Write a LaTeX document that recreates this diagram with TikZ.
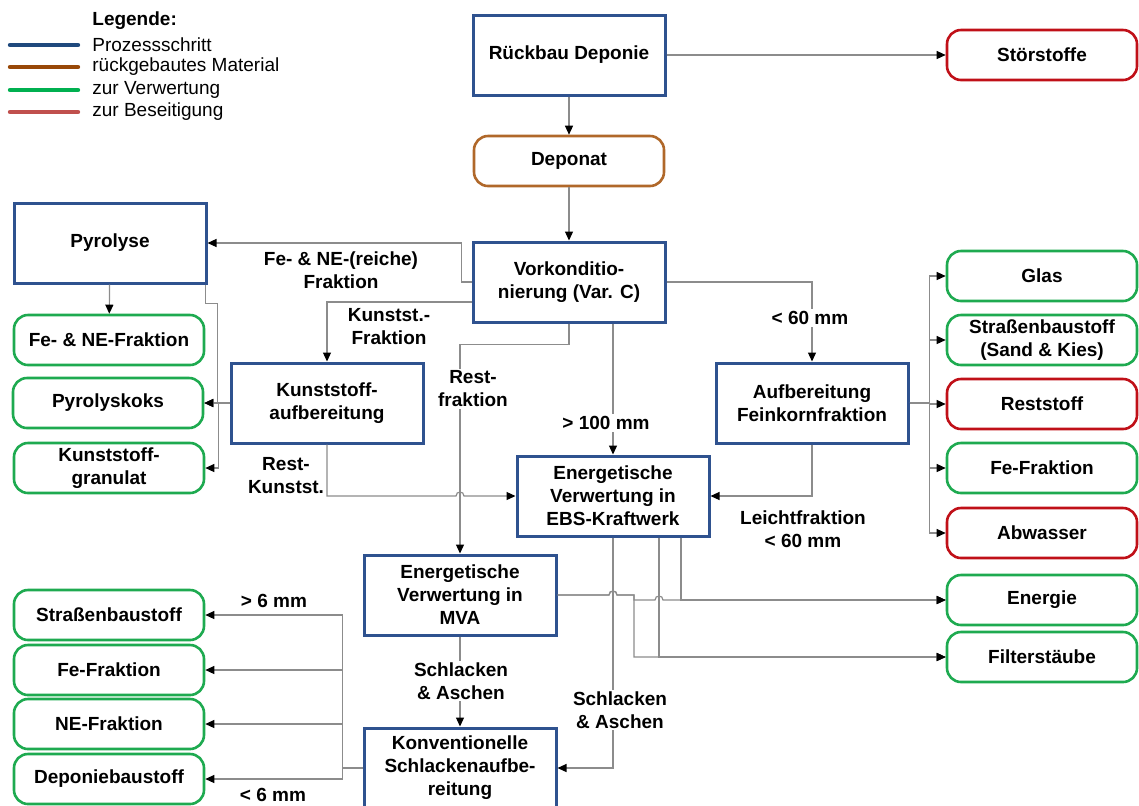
\documentclass[tikz,border=0pt]{standalone}
\usepackage{fontspec}
\setmainfont{Liberation Sans}
\usetikzlibrary{positioning, arrows.meta, calc}

\definecolor{procblue}{RGB}{47,82,143}
\definecolor{matbrown}{RGB}{176,104,42}
\definecolor{verwgreen}{RGB}{30,170,80}
\definecolor{beseitred}{RGB}{192,16,24}
\definecolor{legblue}{RGB}{31,73,125}
\definecolor{legbrown}{RGB}{152,72,7}
\definecolor{leggreen}{RGB}{0,176,80}
\definecolor{legred}{RGB}{192,80,77}
\definecolor{linegray}{RGB}{140,140,140}

\begin{document}
\begin{tikzpicture}[
  x=0.5pt, y=-0.5pt,
  font=\fontsize{9.5}{11.5}\selectfont\bfseries,
  prozess/.style={rectangle, draw=procblue, line width=1.5pt, minimum width=96pt, minimum height=40pt, align=center, fill=white, inner sep=1pt},
  material/.style={rectangle, draw=matbrown, rounded corners=7pt, line width=1.3pt, minimum width=95pt, minimum height=25pt, align=center, fill=white, inner sep=1pt},
  verwertung/.style={material, draw=verwgreen},
  beseitigung/.style={material, draw=beseitred},
  lbl/.style={align=center, fill=white, inner sep=1pt},
  arr/.style={-{Triangle[length=4.5pt, width=4pt, color=black]}, draw=linegray, line width=0.6pt},
  leg/.style={line width=2.2pt, line cap=round},
  legtext/.style={anchor=west, font=\fontsize{9.5}{11.5}\selectfont, inner sep=0pt}
]
  \useasboundingbox (0,0) rectangle (1139,805);

  % Legende
  \node[legtext, font=\fontsize{9.5}{11.5}\selectfont\bfseries] (leghead) at (92,21) {Legende:};
  \draw[leg, legblue] (10,45) -- (78,45);
  \draw[leg, legbrown] (10,67) -- (78,67);
  \draw[leg, leggreen] (10,90) -- (78,90);
  \draw[leg, legred] (10,112) -- (78,112);
  \node[legtext] (leg1) at (92,45) {Prozessschritt};
  \node[legtext] (leg2) at (92,67) {rückgebautes Material};
  \node[legtext] (leg3) at (92,90) {zur Verwertung};
  \node[legtext] (leg4) at (92,112) {zur Beseitigung};

  % Prozessschritte
  \node[prozess] (rueck) at (569,55) {Rückbau Deponie};
  \node[material] (deponat) at (569,161) {Deponat};
  \node[prozess] (vork) at (569,282) {Vorkonditio-\\nierung (Var. C)};
  \node[prozess] (pyro) at (110,243) {Pyrolyse};
  \node[prozess] (kunst) at (327,403) {Kunststoff-\\aufbereitung};
  \node[prozess] (feinkorn) at (812,403) {Aufbereitung\\Feinkornfraktion};
  \node[prozess] (ebs) at (613,496) {Energetische\\Verwertung in\\EBS-Kraftwerk};
  \node[prozess] (mva) at (460,595) {Energetische\\Verwertung in\\MVA};
  \node[prozess] (konv) at (460,768) {Konventionelle\\Schlackenaufbe-\\reitung};

  % Produkte links
  \node[verwertung] (fene) at (109,340) {Fe- \& NE-Fraktion};
  \node[verwertung] (pkoks) at (108,403) {Pyrolyskoks};
  \node[verwertung] (kgran) at (109,468) {Kunststoff-\\granulat};
  \node[verwertung] (strasse) at (109,615) {Straßenbaustoff};
  \node[verwertung] (fel) at (109,670) {Fe-Fraktion};
  \node[verwertung] (nel) at (109,724) {NE-Fraktion};
  \node[verwertung] (depb) at (109,779) {Deponiebaustoff};

  % Produkte rechts
  \node[beseitigung] (stoer) at (1042,55) {Störstoffe};
  \node[verwertung] (glas) at (1042,276) {Glas};
  \node[verwertung] (sand) at (1042,340) {Straßenbaustoff\\(Sand \& Kies)};
  \node[beseitigung] (rest) at (1042,404) {Reststoff};
  \node[verwertung] (fefr) at (1042,468) {Fe-Fraktion};
  \node[beseitigung] (abw) at (1042,533) {Abwasser};
  \node[verwertung] (energie) at (1042,600) {Energie};
  \node[verwertung] (filter) at (1042,657) {Filterstäube};

  % Verbindungen
  \draw[arr] (rueck) to (stoer);
  \draw[arr] (rueck) to (deponat);
  \draw[arr] (deponat) to (vork);
  \draw[arr] (vork.west) -- ++(-10,0) |- (pyro.east);
  \draw[arr] ($(vork.west)+(0,20)$) -| (kunst.north);
  \draw[arr] (vork.south) -- ++(0,21) -| (mva.north);
  \draw[arr] (vork.south -| ebs.north) -- (ebs.north);
  \draw[arr] (vork.east) -| (feinkorn.north);
  \draw[arr] (pyro) to (fene);
  \draw[arr] ($(pyro.south east)+(-2,0)$) -- ++(0,19) -- ++(12,0) |- (pkoks.east);
  \draw[arr] (kunst.west) -- ++(-11,0) |- (pkoks.east);
  \draw[arr] (kunst.west) -- ++(-11,0) |- (kgran.east);
  \draw[arr] (kunst.south) |- ($(mva.north |- ebs.west)+(-4,0)$) .. controls +(0,-5.3) and +(0,-5.3) .. ($(mva.north |- ebs.west)+(4,0)$) -- (ebs.west);
  \draw[arr] (feinkorn.south) |- (ebs.east);
  \draw[arr] (feinkorn.east) -- ++(20,0) |- (glas.west);
  \draw[arr] (feinkorn.east) -- ++(20,0) |- (sand.west);
  \draw[arr] (feinkorn.east) -- ++(20,0) |- (rest.west);
  \draw[arr] (feinkorn.east) -- ++(20,0) |- (fefr.west);
  \draw[arr] (feinkorn.east) -- ++(20,0) |- (abw.west);
  \draw[arr] (ebs.south) |- (konv.east);
  \draw[arr] ($(ebs.south)+(46,0)$) |- (filter.west);
  \draw[arr] ($(ebs.south)+(68,0)$) |- (energie.west);
  \draw[arr] (mva.east) -- ($(ebs.south |- mva.east)+(-4,0)$) .. controls +(0,-5.3) and +(0,-5.3) .. ($(ebs.south |- mva.east)+(4,0)$) -- (634,595) -- (634,600) -- (655,600) .. controls (655,594.7) and (663,594.7) .. (663,600) -- (energie.west);
  \draw[arr] (mva.east) -- ($(ebs.south |- mva.east)+(-4,0)$) .. controls +(0,-5.3) and +(0,-5.3) .. ($(ebs.south |- mva.east)+(4,0)$) -- (634,595) |- (filter.west);
  \draw[arr] (mva) to (konv);
  \draw[arr] (konv.west) -- ++(-20,0) |- (strasse.east);
  \draw[arr] (konv.west) -- ++(-20,0) |- (fel.east);
  \draw[arr] (konv.west) -- ++(-20,0) |- (nel.east);
  \draw[arr] (konv.west) -- ++(-20,0) |- (depb.east);

  % Beschriftungen
  \node[lbl] (lfene) at (341,270) {Fe- \& NE-(reiche)\\Fraktion};
  \node[lbl] (lkunst) at (389,327) {Kunstst.-\\Fraktion};
  \node[lbl] (lrest) at (473,389) {Rest-\\fraktion};
  \node[lbl] (l100) at (606,423) {> 100 mm};
  \node[lbl] (l60) at (810,318) {< 60 mm};
  \node[lbl] (lleicht) at (803,529) {Leichtfraktion\\< 60 mm};
  \node[lbl, fill=none] (lrestk) at (286,476) {Rest-\\Kunstst.};
  \node[lbl] (lschl1) at (461,681) {Schlacken\\\& Aschen};
  \node[lbl] (lschl2) at (620,710) {Schlacken\\\& Aschen};
  \node[lbl] (lgr6) at (274,601) {> 6 mm};
  \node[lbl] (lkl6) at (273,795) {< 6 mm};
\end{tikzpicture}
\end{document}
